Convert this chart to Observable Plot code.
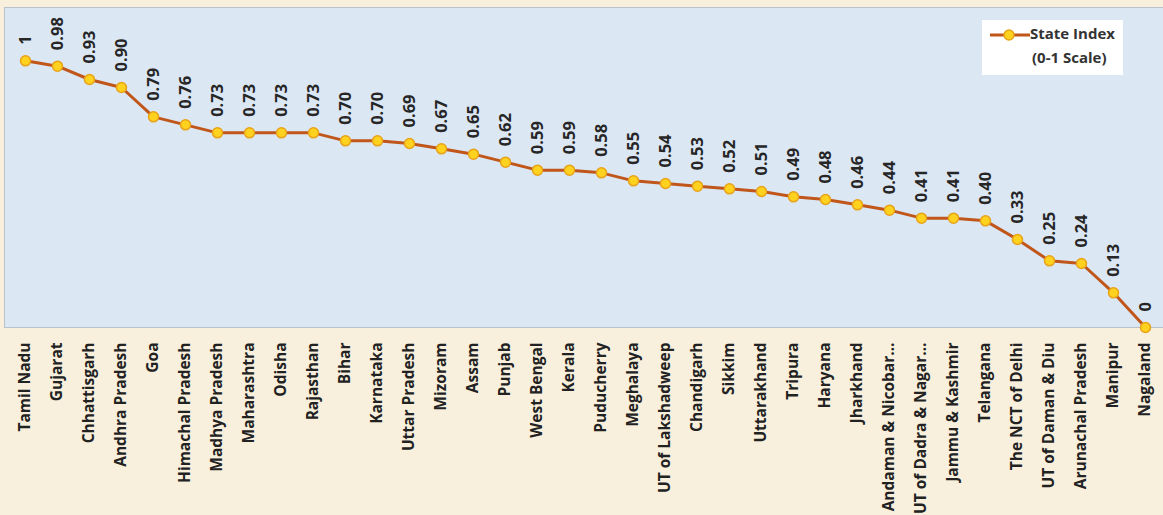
<!DOCTYPE html>
<html>
<head>
<meta charset="utf-8">
<script src="https://cdn.jsdelivr.net/npm/d3@7"></script>
<script src="https://cdn.jsdelivr.net/npm/@observablehq/plot@0.6"></script>
<style>
  html, body { margin: 0; padding: 0; background: #f8f0dc; }
  #wrap { position: relative; width: 1163px; height: 515px; overflow: hidden; }
  #legend { position: absolute; left: 982px; top: 20px; width: 141px; height: 55px; background: #ffffff;
    font-family: 'Open Sans', sans-serif; font-weight: bold; font-size: 15px; color: #333; }
  #legend svg { position: absolute; left: 6px; top: 7px; }
  #legend .t1 { position: absolute; left: 48px; top: 3px; white-space: nowrap; }
  #legend .t2 { position: absolute; left: 50px; top: 27px; white-space: nowrap; }
</style>
</head>
<body>
<div id="wrap">
  <div id="chart"></div>
  <div id="legend">
    <svg width="44" height="16"><line x1="2" y1="8" x2="42" y2="8" stroke="#c0561a" stroke-width="3"/><circle cx="21" cy="8" r="5" fill="#ffd21f" stroke="#e8a317" stroke-width="1.5"/></svg>
    <div class="t1">State Index</div>
    <div class="t2">(0-1 Scale)</div>
  </div>
</div>
<script>
const states = ["Tamil Nadu","Gujarat","Chhattisgarh","Andhra Pradesh","Goa","Himachal Pradesh","Madhya Pradesh","Maharashtra","Odisha","Rajasthan","Bihar","Karnataka","Uttar Pradesh","Mizoram","Assam","Punjab","West Bengal","Kerala","Puducherry","Meghalaya","UT of Lakshadweep","Chandigarh","Sikkim","Uttarakhand","Tripura","Haryana","Jharkhand","Andaman & Nicobar…","UT of Dadra & Nagar…","Jammu & Kashmir","Telangana","The NCT of Delhi","UT of Daman & Diu","Arunachal Pradesh","Manipur","Nagaland"];
const indexValues = [1,0.98,0.93,0.90,0.79,0.76,0.73,0.73,0.73,0.73,0.70,0.70,0.69,0.67,0.65,0.62,0.59,0.59,0.58,0.55,0.54,0.53,0.52,0.51,0.49,0.48,0.46,0.44,0.41,0.41,0.40,0.33,0.25,0.24,0.13,0];
const valueLabels = ["1","0.98","0.93","0.90","0.79","0.76","0.73","0.73","0.73","0.73","0.70","0.70","0.69","0.67","0.65","0.62","0.59","0.59","0.58","0.55","0.54","0.53","0.52","0.51","0.49","0.48","0.46","0.44","0.41","0.41","0.40","0.33","0.25","0.24","0.13","0"];

const data = states.map((s, i) => ({state: s, value: indexValues[i], label: valueLabels[i]}));

const chart = Plot.plot({
  width: 1163,
  height: 515,
  marginLeft: 4,
  marginRight: 0,
  marginTop: 7,
  marginBottom: 188,
  style: {fontFamily: "'Open Sans', sans-serif", fontWeight: "bold", fontSize: "16px", background: "transparent", color: "#222"},
  x: {type: "point", domain: states, range: [20, 1150], padding: 0, label: null},
  y: {domain: [0, 1.2], axis: null},
  marks: [
    Plot.frame({fill: "#dce7f4", stroke: "#b9c2cc", strokeWidth: 1}),
    Plot.line(data, {x: "state", y: "value", stroke: "#c0561a", strokeWidth: 3}),
    Plot.dot(data, {x: "state", y: "value", r: 5, fill: "#ffd21f", stroke: "#e8a317", strokeWidth: 1.5}),
    Plot.text(data, {x: "state", y: "value", text: "label", rotate: -90, textAnchor: "start", dy: -16, fill: "#262626", fontSize: 16.5, fontWeight: "bold"}),
    Plot.axisX({tickRotate: -90, tickSize: 0, tickPadding: 15, fontSize: 15.5, fontWeight: "bold", fill: "#222", label: null})
  ]
});
document.getElementById("chart").appendChild(chart);
</script>
</body>
</html>
